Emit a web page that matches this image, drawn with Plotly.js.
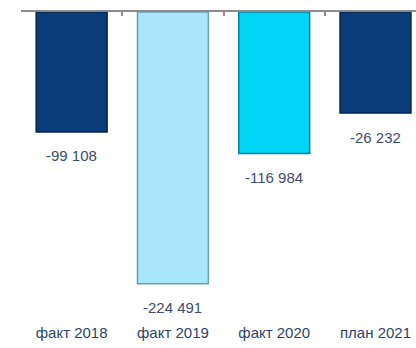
<!DOCTYPE html>
<html>
<head>
<meta charset="utf-8">
<script src="https://cdn.plot.ly/plotly-3.0.1.min.js"></script>
<style>html,body{margin:0;padding:0;background:#fff;}#chart{width:416px;height:348px;}</style>
</head>
<body>
<div id="chart"></div>
<script>
// Category labels
const categories = ["факт 2018", "факт 2019", "факт 2020", "план 2021"];
// Bar lengths as drawn in the picture (the last bar is drawn longer than its label)
const barValues = [-99108, -224491, -116984, -83500];
// Printed value labels
const valueLabels = ["-99 108", "-224 491", "-116 984", "-26 232"];
const barColors = ["#0c3d7b", "#a8e6fb", "#00d5f7", "#0c3d7b"];
const edgeColors = ["#03234a", "#6a9fb2", "#0a7f9c", "#03234a"];

const xs = categories.map((c, i) => i);
const boundaries = categories.map((c, i) => i - 0.5).concat([categories.length - 0.5]);

const trace = {
  type: "bar",
  x: xs,
  y: barValues,
  width: 0.7,
  marker: { color: barColors, line: { color: edgeColors, width: 1.5 } },
  hoverinfo: "skip",
  xaxis: "x",
  yaxis: "y"
};

const annotations = xs.map((x, i) => ({
  x: x, y: barValues[i], xref: "x", yref: "y",
  text: valueLabels[i], showarrow: false,
  yanchor: "middle", yshift: -24,
  font: { family: "Liberation Sans, Arial, sans-serif", size: 15, color: "#3c4c6c" }
}));

const layout = {
  width: 416, height: 348,
  margin: { l: 21, r: 0, t: 12, b: 26 },
  paper_bgcolor: "#ffffff", plot_bgcolor: "#ffffff",
  showlegend: false,
  xaxis: {
    type: "linear", range: [-0.5, 3.4], side: "top",
    showline: true, linecolor: "#8c8c8c", linewidth: 2,
    tickvals: boundaries, ticks: "inside", ticklen: 4, tickwidth: 2, tickcolor: "#8c8c8c",
    showticklabels: false, showgrid: false, zeroline: false, fixedrange: true
  },
  xaxis2: {
    type: "linear", range: [-0.5, 3.4], overlaying: "x", anchor: "y", side: "bottom",
    tickvals: xs, ticktext: categories, ticks: "", showline: false, showgrid: false, zeroline: false,
    tickfont: { family: "Liberation Sans, Arial, sans-serif", size: 15, color: "#2c4468" }
  },
  yaxis: {
    range: [-256200, 0], visible: false, showgrid: false, zeroline: false, fixedrange: true
  },
  annotations: annotations
};

// dummy invisible trace to activate xaxis2
const dummy = { type: "scatter", x: xs, y: barValues, xaxis: "x2", yaxis: "y", mode: "markers",
  marker: { opacity: 0 }, hoverinfo: "skip" };

Plotly.newPlot("chart", [trace, dummy], layout, { displayModeBar: false, staticPlot: true });
</script>
</body>
</html>
